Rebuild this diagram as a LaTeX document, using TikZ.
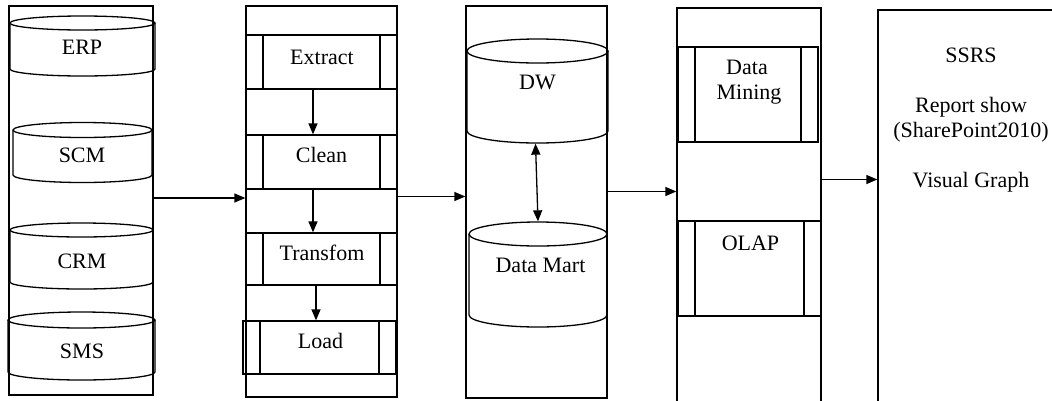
\documentclass[tikz,border=0pt]{standalone}
\usepackage{fontspec}
\setmainfont{Liberation Serif}
\usetikzlibrary{arrows.meta,fit}

\tikzset{
  col/.style={draw, inner sep=0pt},
  proc/.style={draw, inner sep=0pt,
    path picture={\draw ([xshift=17pt]path picture bounding box.north west) -- ([xshift=17pt]path picture bounding box.south west)
                        ([xshift=-17pt]path picture bounding box.north east) -- ([xshift=-17pt]path picture bounding box.south east);}},
  lbl/.style={anchor=base, inner sep=0pt, font=\fontsize{22}{25}\selectfont},
  arr/.style={-{Triangle[length=11pt,width=9pt]}},
  darr/.style={{Triangle[length=11pt,width=9pt]}-{Triangle[length=11pt,width=9pt]}}
}

% name, centre x, x radius, top y, bottom y, y radius
\newcommand{\dbcyl}[6]{%
  \draw (#2,#4) ellipse[x radius=#3, y radius=#6];
  \draw (#2-#3,#4) -- (#2-#3,#5) arc[start angle=180, end angle=0, x radius=#3, y radius=#6] -- (#2+#3,#4);
  \node[fit={(#2-#3,#4-#6) (#2+#3,#5+#6)}, inner sep=0pt] (#1) {};
}

\begin{document}
\begin{tikzpicture}[x=1pt, y=-1pt, line width=1.3pt]
  \useasboundingbox (0,0) rectangle (1052,400);
  \clip (0,0) rectangle (1052,400);

  % columns
  \node[col, minimum width=144pt, minimum height=389pt] (src) at (81,200.5) {};
  \node[col, minimum width=151pt, minimum height=391pt] (etl) at (321.5,201.5) {};
  \node[col, minimum width=141pt, minimum height=392pt] (dwc) at (536.5,202) {};
  \node[col, minimum width=144pt, minimum height=412pt] (anc) at (749,214) {};
  \node[col, minimum width=222pt, minimum height=410pt] (rep) at (989,215) {};

  % sources
  \dbcyl{erp}{82.5}{72.5}{23}{69}{7}
  \dbcyl{scm}{82.5}{69.5}{130}{175}{7.5}
  \dbcyl{crm}{81.5}{71.5}{230}{282}{7}
  \dbcyl{sms}{81.5}{73.5}{320}{372}{8}
  \node[lbl] at (82,54) {ERP};
  \node[lbl] at (82,162) {SCM};
  \node[lbl] at (82,268) {CRM};
  \node[lbl] at (82,358) {SMS};

  % ETL
  \node[proc, minimum width=151pt, minimum height=54pt] (ext) at (321.5,62) {};
  \node[proc, minimum width=151pt, minimum height=54pt] (cln) at (321.5,162) {};
  \node[proc, minimum width=151pt, minimum height=52pt] (trf) at (321.5,259) {};
  \node[proc, minimum width=153pt, minimum height=53pt] (lod) at (319.5,347.5) {};
  \node[lbl] at (322,64) {Extract};
  \node[lbl] at (321.5,162) {Clean};
  \node[lbl] at (322,260) {Transfom};
  \node[lbl] at (320.5,348) {Load};
  \draw[arr] ([xshift=-8.5pt]ext.south) -- ([xshift=-8.5pt]cln.north);
  \draw[arr] ([xshift=-8.5pt]cln.south) -- ([xshift=-8.5pt]trf.north);
  \draw[arr] ([xshift=-5.5pt]trf.south) -- ([xshift=-3.5pt]lod.north);

  % warehouse
  \dbcyl{dwh}{537.5}{70.5}{51}{131}{12}
  \dbcyl{dmt}{538}{69}{234}{315}{12}
  \node[lbl] at (537.5,89) {DW};
  \node[lbl] at (540.5,272) {Data Mart};
  \draw[darr] ([xshift=-2pt]dwh.south) -- (dmt.north);

  % analysis
  \node[proc, minimum width=140pt, minimum height=95pt] (dmn) at (748,94.5) {};
  \node[proc, minimum width=143pt, minimum height=95pt] (olp) at (749.5,268.5) {};
  \node[lbl] at (747,74) {Data};
  \node[lbl] at (749,99) {Mining};
  \node[lbl] at (750.5,250) {OLAP};

  % reporting
  \node[lbl] at (971,62) {SSRS};
  \node[lbl] at (971,112) {Report show};
  \node[lbl] at (971,137) {(SharePoint2010)};
  \node[lbl] at (971,187) {Visual Graph};

  % flow between columns
  \coordinate (y1) at (0,198);
  \coordinate (y2) at (0,196.5);
  \coordinate (y3) at (0,191.5);
  \coordinate (y4) at (0,179.5);
  \draw[arr] (src.east |- y1) -- (etl.west |- y1);
  \draw[arr] (etl.east |- y2) -- (dwc.west |- y2);
  \draw[arr] (dwc.east |- y3) -- (anc.west |- y3);
  \draw[arr] (anc.east |- y4) -- (rep.west |- y4);
\end{tikzpicture}
\end{document}
